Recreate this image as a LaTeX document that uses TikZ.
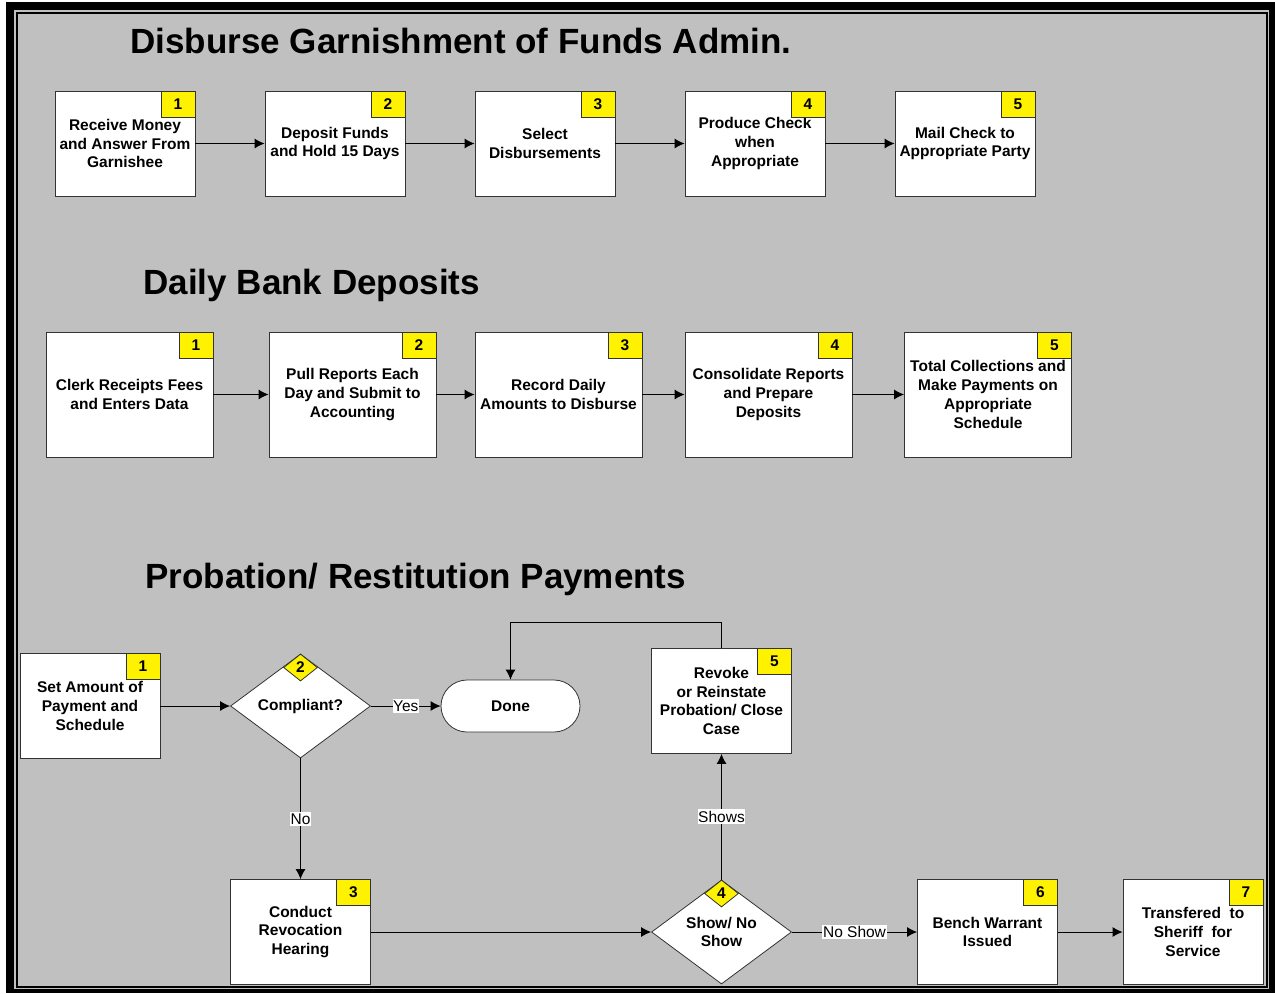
\documentclass[tikz,border=0pt]{standalone}
\usepackage{fontspec}
\setmainfont{Liberation Sans}
\usetikzlibrary{positioning}
\usetikzlibrary{shapes.geometric}
\usetikzlibrary{arrows.meta}
\definecolor{panel}{HTML}{C0C0C0}
\tikzset{
	task/.style={draw=black!80, rectangle, inner sep=1pt, minimum width=70pt, minimum height=52.5pt, fill=white, align=center, font=\bfseries\fontsize{7.75}{9.4}\selectfont},
	wide/.style={task, minimum width=83.5pt, minimum height=62.5pt},
	num/.style={draw=black!80, rectangle, inner sep=0pt, minimum width=17pt, minimum height=13pt, fill=yellow, anchor=north east, font=\bfseries\fontsize{7.75}{9.4}\selectfont},
	decision/.style={draw=black!80, diamond, inner sep=0pt, minimum width=70pt, minimum height=52pt, fill=white, align=center, font=\bfseries\fontsize{7.75}{9.4}\selectfont},
	% small yellow corner on top of a decision
	decnum/.style={draw=black!80, diamond, inner sep=0pt, minimum width=17pt, minimum height=13.5pt, fill=yellow, anchor=north, font=\bfseries\fontsize{7.75}{9.4}\selectfont},
	terminal/.style={draw=black!80, rectangle, rounded corners=13pt, minimum width=69.5pt, minimum height=26pt, fill=white, font=\bfseries\fontsize{7.75}{9.4}\selectfont},
	answer/.style={fill=white, inner xsep=0.3pt, inner ysep=0.8pt, font=\fontsize{7.75}{9.4}\selectfont},
	heading/.style={anchor=base west, inner sep=0pt, font=\bfseries\fontsize{17.5}{21}\selectfont},
}

\begin{document}
\begin{tikzpicture}[x=0.5pt, y=-0.5pt, node distance=105pt]
	\useasboundingbox (0,0) rectangle (1275,993);
	
	% frame
	\fill[white] (0,0) rectangle (1275,993);
	\fill[black] (6,2) rectangle (1275,993);
	\fill[panel] (14,10) rectangle (1269,989);
	\draw[black, line width=1pt] (17,13) rectangle (1266.5,986.5);
	
	\node (t1) [heading] at (130,53) {Disburse Garnishment of Funds Admin.};
	\node (t2) [heading] at (143,294.3) {Daily Bank Deposits};
	\node (t3) [heading] at (145,588) {Probation/ Restitution Payments};
	
	% garnishment
	\node (g1) [task] at (125,143.5) {Receive Money\\and Answer From\\Garnishee};
	\node (g2) [task, right of=g1] {Deposit Funds\\and Hold 15 Days};
	\node (g3) [task, right of=g2] {Select\\Disbursements};
	\node (g4) [task, right of=g3] {Produce Check\\when\\Appropriate};
	\node (g5) [task, right of=g4] {Mail Check to\\Appropriate Party};
	
	\node (gn1) [num] at (g1.north east) {1};
	\node (gn2) [num] at (g2.north east) {2};
	\node (gn3) [num] at (g3.north east) {3};
	\node (gn4) [num] at (g4.north east) {4};
	\node (gn5) [num] at (g5.north east) {5};
	
	% deposits
	\node (d1) [wide] at (129.5,394.5) {Clerk Receipts Fees\\and Enters Data};
	\node (d2) [wide, right of=d1, xshift=6.5pt] {Pull Reports Each\\Day and Submit to\\Accounting};
	\node (d3) [wide, right of=d2, xshift=-2pt] {Record Daily\\Amounts to Disburse};
	\node (d4) [wide, right of=d3] {Consolidate Reports\\and Prepare\\Deposits};
	\node (d5) [wide, right of=d4, xshift=4.75pt] {Total Collections and\\Make Payments on\\Appropriate\\Schedule};
	
	\node (dn1) [num] at (d1.north east) {1};
	\node (dn2) [num] at (d2.north east) {2};
	\node (dn3) [num] at (d3.north east) {3};
	\node (dn4) [num] at (d4.north east) {4};
	\node (dn5) [num] at (d5.north east) {5};
	
	% probation
	\node (p1) [task] at (90,706) {Set Amount of\\Payment and\\Schedule};
	\node (p2) [decision, right of=p1, xshift=0.25pt] {Compliant?};
	\node (done) [terminal, right of=p2] {Done};
	\node (p5) [task, right of=done, xshift=0.5pt, yshift=2.5pt] {Revoke\\or Reinstate\\Probation/ Close\\Case};
	\node (p3) [task, below of=p2, yshift=-8pt] {Conduct\\Revocation\\Hearing};
	\node (p4) [decision, below of=p5, yshift=-10.5pt] {Show/ No\\Show};
	\node (p6) [task, right of=p4, xshift=28pt] {Bench Warrant\\Issued};
	\node (p7) [task, right of=p6, xshift=-2.25pt] {Transfered\ \ to\\Sheriff\ \ for\\Service};
	
	\node (pn1) [num] at (p1.north east) {1};
	\node (pn2) [decnum] at (p2.north) {2};
	\node (pn3) [num] at (p3.north east) {3};
	\node (pn4) [decnum] at (p4.north) {4};
	\node (pn5) [num] at (p5.north east) {5};
	\node (pn6) [num] at (p6.north east) {6};
	\node (pn7) [num] at (p7.north east) {7};
	
	\begin{scope}[black, line width=0.5pt, ->, >={Latex[length=5pt,width=5pt]}]
		\draw (g1) -- (g2);
		\draw (g2) -- (g3);
		\draw (g3) -- (g4);
		\draw (g4) -- (g5);
		
		\draw (d1) -- (d2);
		\draw (d2) -- (d3);
		\draw (d3) -- (d4);
		\draw (d4) -- (d5);
		
		\draw (p1) -- (p2);
		\draw (p2) -- node[answer] {Yes} (done);
		\draw (p2) -- node[answer] {No} (p3);
		\draw (p3) -- (p4);
		\draw (p4) -- node[answer] {Shows} (p5);
		\draw (p5.north) -- ++(0,-26) -| (done.north);
		\draw (p4) -- node[answer] {No Show} (p6);
		\draw (p6) -- (p7);
	\end{scope}
	
\end{tikzpicture}
\end{document}
